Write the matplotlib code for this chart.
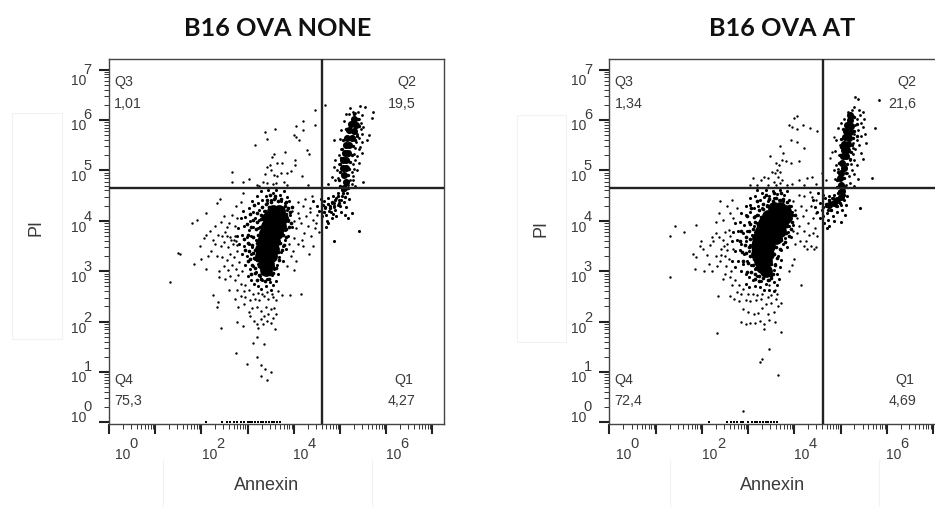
import matplotlib
matplotlib.use('Agg')
import matplotlib.pyplot as plt
from matplotlib.lines import Line2D
from matplotlib.patches import Rectangle
from matplotlib.ticker import LogLocator, NullFormatter

# all events are (log10 Annexin, log10 PI)
none_core = [(3.55,4.2),(3.68,4.2),(3.45,4.05),(3.6,4.05),(3.74,4.05),(3.42,3.9),(3.56,3.9),(3.7,3.9),
             (3.37,3.75),(3.5,3.75),(3.64,3.75),(3.33,3.6),(3.47,3.6),(3.58,3.6),(3.3,3.45),(3.44,3.45),
             (3.55,3.45),(3.3,3.3),(3.42,3.3),(3.5,3.3),(3.35,3.15),(3.45,3.15),(3.4,3.03)]
none_lobe_core = [(5.3,6.02),(5.24,5.92),(5.34,5.9),(5.2,5.8),(5.3,5.78),(5.15,5.65),(5.25,5.65),(5.12,5.5),
                  (5.2,5.5),(5.1,5.35),(5.17,5.35),(5.07,5.2),(5.13,5.2),(5.07,5.05),(5.12,5.05),(5.08,4.9),
                  (5.12,4.78),(5.08,4.66)]
none_mid = [(3.42,4.41),(3.51,4.38),(3.57,4.44),(3.66,4.39),(3.73,4.43),(3.83,4.37),(3.31,4.28),(3.39,4.33),(3.47,4.27),
            (3.8,4.3),(3.88,4.26),(3.2,4.16),(3.29,4.12),(3.37,4.19),(3.83,4.14),(3.91,4.17),(3.11,4.02),(3.21,3.97),
            (3.29,4.03),(3.87,4.01),(3.94,3.96),(3.07,3.87),(3.19,3.83),(3.27,3.88),(3.83,3.84),(3.9,3.87),(3.0,3.72),
            (3.12,3.67),(3.23,3.71),(3.76,3.72),(3.84,3.67),(3.01,3.57),(3.09,3.52),(3.2,3.56),(3.7,3.57),(3.79,3.53),
            (3.03,3.41),(3.11,3.37),(3.17,3.42),(3.66,3.39),(3.74,3.42),(3.05,3.24),(3.14,3.27),(3.21,3.22),(3.6,3.26),
            (3.67,3.22),(3.09,3.12),(3.17,3.07),(3.25,3.11),(3.55,3.09),(3.62,3.06),(3.15,2.96),(3.24,2.93),(3.31,2.97),
            (3.48,2.94),(3.56,2.97),(3.2,2.82),(3.3,2.85),(3.38,2.8),(3.46,2.84),(3.13,4.31),(3.05,4.13),(2.98,3.94),
            (2.93,3.63),(2.95,3.42),(3.0,3.2),(3.08,2.95),(3.6,4.5),(3.48,4.52),(3.95,4.28)]
none_lobe_mid = [(5.3,6.12),(5.38,6.02),(5.42,5.88),(5.12,5.82),(5.36,5.68),(5.06,5.6),(5.32,5.6),(5.04,5.42),(5.27,5.48),
                 (5.25,5.3),(5.02,5.24),(5.22,5.16),(5.0,5.12),(5.2,5.02),(5.0,4.96),(5.18,4.9),(4.98,4.8),(5.17,4.66),
                 (5.0,4.7),(5.06,4.56),(4.96,4.5),(5.1,4.48),(4.9,4.42),(4.82,4.38),(4.74,4.34),(4.68,4.28),(4.88,4.3),
                 (4.78,4.26),(4.66,4.18),(4.98,4.36)]
none_upper = [(4.46,6.2),(4.68,6.3),(4.19,5.99),(4.05,5.88),(4.19,5.81),(4.46,5.9),(4.0,5.7),(4.11,5.6),
              (4.04,5.67),(3.38,5.77),(3.59,5.82),(3.41,5.63),(3.17,5.5),(4.28,5.4),(4.33,5.32),(3.57,5.32),
              (3.52,5.26),(3.8,5.37),(3.41,5.07),(3.48,5.11),(3.63,5.14),(3.74,5.14),(4.03,5.2),(4.03,5.1),
              (2.66,4.97),(3.38,4.93),(3.5,5.0),(3.58,4.9),(3.72,4.95),(3.86,4.95),(3.93,4.99),(4.17,4.89),
              (2.67,4.78),(3.34,4.78),(3.41,4.75),(3.63,4.88),(3.78,4.78),(3.02,4.83),(2.91,4.78),(3.2,4.72),
              (3.55,4.74),(3.25,4.7),(3.85,4.72),(3.62,4.76),(4.3,4.72)]
none_lobe = [(5.22,6.23),(5.43,6.28),(5.54,6.26),(5.72,6.16),(5.69,6.03),(5.63,5.7),(5.58,5.6),(5.47,6.1),
             (5.5,5.87),(5.47,5.73),(5.43,5.47),(5.47,5.34),(5.4,5.14),(5.49,4.78),(5.29,4.81),(4.86,5.6),
             (4.89,5.2),(4.86,5.07),(4.82,4.87),(4.75,4.74),(5.38,6.15),(5.32,6.13),(5.42,6.02),(5.45,5.95),
             (5.38,5.88),(5.46,5.82),(5.36,5.72),(5.42,5.64),(5.35,5.56),(5.4,5.42),(5.33,5.45),(5.36,5.28),
             (5.3,5.32),(5.33,5.2),(5.27,5.12),(5.3,5.02),(5.25,4.96),(5.28,4.88),(5.22,4.8),(5.26,4.74),
             (5.0,5.62),(5.02,5.42),(4.98,5.3),(4.97,5.12),(4.94,5.0),(4.95,4.85),(4.9,4.8),(5.02,5.8),
             (5.08,5.98),(5.14,6.12),(5.2,6.12),(5.28,6.16),(5.48,5.56),(5.36,5.0),(5.32,4.7),(5.18,4.72)]
none_arm = [(4.42,4.4),(4.5,4.3),(4.55,4.2),(4.6,4.1),(4.65,4.4),(4.68,4.25),(4.7,4.12),(4.72,4.0),(4.75,4.45),
            (4.78,4.3),(4.8,4.18),(4.82,4.06),(4.85,4.5),(4.88,4.36),(4.9,4.22),(4.92,4.1),(4.95,4.55),
            (4.98,4.42),(5.0,4.3),(5.02,4.18),(5.05,4.5),(5.08,4.38),(5.12,4.28),(5.15,4.55),(5.2,4.44),
            (4.7,3.88),(4.75,3.95),(4.82,4.35),(4.92,4.45),(5.02,4.42),(4.96,4.32),(4.86,4.28),(4.76,4.2),
            (4.64,4.32),(4.58,4.44),(5.1,4.12),(5.25,4.16),(5.4,3.8),(4.88,3.6),(5.18,4.05),(5.05,4.62),(4.84,4.14)]
none_bridge = [(3.95,4.2),(4.0,4.0),(4.05,3.85),(4.1,4.15),(4.15,3.95),(4.2,4.3),(4.22,3.75),(4.26,4.1),(4.3,3.9),
               (4.34,4.18),(4.38,3.7),(4.42,4.02),(4.46,3.85),(4.5,4.12),(4.54,3.78),(4.1,3.55),(4.0,3.65),
               (4.2,3.5),(4.32,3.35),(4.42,3.5),(3.98,3.4),(4.08,4.38),(4.24,4.44),(4.4,4.5),(4.05,3.2),(4.0,3.02),
               (4.12,4.05),(4.36,4.26),(4.18,3.62),(3.9,3.55),(3.94,3.3),(3.85,3.1),(3.92,2.52),(4.15,2.55),(4.48,3.95)]
none_halo = [(3.2,4.5),(3.3,4.6),(3.4,4.5),(3.45,4.62),(3.55,4.55),(3.62,4.62),(3.7,4.52),(3.78,4.6),(3.85,4.48),
             (3.1,4.4),(3.22,4.35),(3.32,4.42),(3.42,4.35),(3.5,4.42),(3.6,4.45),(3.72,4.4),(3.82,4.35),(3.9,4.4),
             (2.9,4.2),(3.02,4.25),(3.12,4.18),(3.25,4.22),(3.36,4.2),(3.46,4.28),(3.85,4.22),(3.92,4.12),
             (2.85,4.05),(2.95,4.08),(3.05,4.0),(3.15,4.05),(3.25,4.02),(3.32,4.1),(3.88,4.0),(3.95,3.88),
             (2.8,3.85),(2.92,3.9),(3.02,3.82),(3.12,3.88),(3.22,3.85),(3.82,3.82),(3.88,3.7),(3.8,3.62),
             (2.78,3.7),(2.88,3.72),(2.98,3.68),(3.08,3.7),(3.18,3.62),(3.76,3.5),(3.84,3.45),(3.72,3.38),
             (2.82,3.55),(2.92,3.5),(3.02,3.55),(3.1,3.48),(3.2,3.42),(3.68,3.28),(3.76,3.2),(3.64,3.12),
             (2.88,3.35),(2.98,3.3),(3.08,3.34),(3.15,3.25),(3.22,3.15),(3.58,3.05),(3.66,2.95),(3.52,2.92),
             (2.95,3.12),(3.05,3.05),(3.12,3.1),(3.18,2.98),(3.26,2.9),(3.32,2.82),(3.42,2.85),(3.48,2.78),
             (3.0,2.9),(3.08,2.82),(3.14,2.75),(3.22,2.7),(3.3,2.65),(3.4,2.7),(3.5,2.62),(3.56,2.72),(3.62,2.8)]
none_left = [(1.32,2.79),(1.5,3.37),(1.53,3.34),(1.83,3.15),(1.8,3.95),(1.9,4.01),(2.11,4.15),(2.4,4.43),(2.33,4.35),
             (1.97,3.5),(2.11,3.05),(2.0,3.25),(2.15,3.3),(2.2,3.4),(2.05,3.65),(2.25,3.62),(2.1,3.72),(2.18,3.8),
             (2.3,3.9),(2.42,3.98),(2.5,4.1),(2.55,3.88),(2.6,3.95),(2.35,3.72),(2.45,3.7),(2.52,3.78),(2.62,3.68),
             (2.72,3.9),(2.66,4.12),(2.78,4.05),(2.3,3.55),(2.42,3.5),(2.5,3.58),(2.58,3.48),(2.68,3.55),(2.72,3.7),
             (2.34,3.3),(2.45,3.28),(2.55,3.22),(2.62,3.34),(2.7,3.28),(2.76,3.4),(2.38,3.0),(2.48,3.1),(2.58,3.02),
             (2.66,3.12),(2.75,3.05),(2.82,3.18),(2.38,2.88),(2.52,2.85),(2.62,2.9),(2.72,2.82),(2.8,2.92),(2.88,3.0),
             (2.65,3.62),(2.7,3.62),(2.74,3.6),(2.76,3.52),(2.55,3.7),(2.9,4.55),(2.75,4.3),(2.85,4.38)]
none_tail = [(3.41,0.84),(3.3,0.92),(3.51,1.0),(3.38,1.07),(3.3,1.14),(3.2,1.29),(2.99,1.17),(2.74,1.38),(3.12,1.57),
             (3.36,1.55),(3.21,1.7),(3.23,1.87),(3.59,1.85),(2.78,2.0),(2.89,1.91),(2.42,1.88),(2.33,2.29),(2.35,2.39),
             (2.26,2.53),(3.02,2.2),(3.06,2.12),(3.13,2.02),(3.2,1.96),(3.28,2.05),(3.34,1.95),(3.42,2.02),(3.5,1.98),
             (3.56,2.08),(3.62,2.15),(3.36,2.12),(3.44,2.15),(3.1,2.28),(3.2,2.3),(3.3,2.22),(3.4,2.3),(3.5,2.25),
             (3.58,2.28),(2.92,2.35),(2.8,2.3),(2.72,2.45),(2.85,2.5),(2.95,2.48),(3.05,2.42),(3.15,2.45),(3.25,2.42),
             (3.35,2.5),(3.45,2.44),(3.55,2.48),(3.62,2.42),(3.75,2.52),(2.6,2.62),(2.78,2.62),(2.92,2.6),(3.02,2.62),
             (3.12,2.55),(3.22,2.56),(3.32,2.55),(3.42,2.58),(3.52,2.55),(3.65,2.6),(2.85,2.75),(2.95,2.72)]
none_floor = [2.1,2.45,2.55,2.62,2.7,2.78,2.85,2.92,3.0,3.05,3.1,3.16,3.22,3.28,3.34,3.4,3.46,3.52,3.58,3.64,3.7]

at_core = [(3.55,4.25),(3.68,4.25),(3.8,4.2),(3.42,4.1),(3.56,4.1),(3.7,4.1),(3.8,4.05),(3.35,3.95),(3.48,3.95),
           (3.62,3.95),(3.74,3.95),(3.28,3.8),(3.42,3.8),(3.55,3.8),(3.68,3.8),(3.22,3.65),(3.36,3.65),(3.5,3.65),
           (3.6,3.65),(3.2,3.5),(3.33,3.5),(3.46,3.5),(3.2,3.35),(3.33,3.35),(3.44,3.35),(3.25,3.2),(3.38,3.2),
           (3.3,3.08),(3.38,3.0)]
at_lobe_core = [(5.2,6.1),(5.2,6.0),(5.15,5.9),(5.22,5.88),(5.12,5.78),(5.2,5.76),(5.1,5.66),(5.18,5.64),(5.08,5.52),
                (5.16,5.52),(5.07,5.4),(5.14,5.4),(5.06,5.28),(5.12,5.28),(5.04,5.15),(5.08,5.05),(5.02,4.95),(4.98,4.85),
                (5.0,4.72),(5.03,4.6),(5.0,4.48),(4.92,4.42),(4.85,4.35),(4.75,4.32)]
at_mid = [(3.45,4.44),(3.53,4.4),(3.6,4.46),(3.68,4.41),(3.76,4.44),(3.85,4.38),(3.33,4.33),(3.4,4.29),(3.88,4.3),
          (3.24,4.21),(3.32,4.24),(3.9,4.18),(3.95,4.12),(3.12,4.07),(3.2,4.12),(3.28,4.08),(3.9,4.03),(3.96,3.98),
          (3.05,3.94),(3.14,3.98),(3.22,3.92),(3.85,3.9),(3.92,3.84),(3.02,3.8),(3.1,3.84),(3.18,3.78),(3.82,3.76),
          (3.88,3.7),(2.95,3.68),(3.04,3.63),(3.12,3.7),(3.72,3.62),(3.8,3.58),(2.93,3.52),(3.02,3.48),(3.1,3.42),
          (3.6,3.48),(3.68,3.44),(2.95,3.36),(3.04,3.3),(3.12,3.24),(3.56,3.34),(3.62,3.27),(3.0,3.16),(3.1,3.12),
          (3.18,3.06),(3.5,3.15),(3.58,3.12),(3.06,2.98),(3.16,2.95),(3.24,2.91),(3.46,3.0),(3.54,2.95),(3.14,2.84),
          (3.24,2.8),(3.32,2.86),(3.42,2.82),(3.5,2.86),(2.85,3.8),(2.82,3.6),(2.86,3.38),(2.9,3.2),(2.98,2.98),
          (2.98,4.1),(3.06,4.26),(3.2,4.4),(3.38,4.52),(3.55,4.55),(3.72,4.56),(4.02,4.12)]
at_lobe_mid = [(5.3,6.05),(5.36,5.92),(5.06,5.82),(5.3,5.78),(5.02,5.62),(5.28,5.64),(5.36,5.68),(5.0,5.46),(5.24,5.5),
               (4.98,5.3),(5.22,5.36),(5.2,5.22),(4.96,5.14),(5.14,5.12),(4.94,4.96),(5.12,4.94),(4.92,4.8),(5.08,4.84),
               (4.92,4.68),(5.1,4.68),(4.95,4.56),(5.08,4.52),(4.84,4.46),(4.76,4.42),(4.68,4.34),(4.62,4.28),(4.8,4.22),
               (4.92,4.3),(4.72,4.22),(4.98,4.36)]
at_upper = [(4.06,6.08),(3.99,6.03),(3.88,5.9),(3.95,5.87),(4.06,5.83),(4.19,5.9),(4.35,5.85),(4.5,5.79),(3.92,5.6),
            (4.06,5.57),(4.2,5.44),(3.69,5.48),(3.76,5.34),(3.47,5.29),(3.92,5.15),(4.11,5.19),(3.61,5.14),(3.74,5.2),
            (3.81,5.19),(3.63,5.0),(3.52,4.97),(3.69,4.97),(3.65,4.87),(3.1,4.85),(3.34,4.87),(3.44,4.85),(3.74,4.81),
            (4.1,4.81),(4.28,4.84),(4.39,4.87),(4.46,4.74),(4.6,4.94),(4.68,4.81),(4.78,5.24),(4.82,5.37),(4.86,5.67),
            (3.28,4.8),(3.42,4.72),(3.55,4.78),(3.6,4.72),(3.7,4.75),(3.85,4.72),(3.95,4.74),(4.2,4.72),(3.05,4.72),
            (3.2,4.72),(3.58,4.95),(3.66,5.1)]
at_lobe = [(5.32,6.46),(5.38,6.41),(5.83,6.4),(5.74,5.85),(5.69,4.85),(5.3,6.25),(5.4,6.2),(5.48,6.15),(5.25,6.2),
           (5.42,6.1),(5.5,6.02),(5.35,6.02),(5.44,5.95),(5.32,5.9),(5.48,5.86),(5.38,5.8),(5.52,5.72),(5.3,5.72),
           (5.44,5.68),(5.36,5.6),(5.56,5.55),(5.28,5.55),(5.4,5.5),(5.32,5.42),(5.44,5.35),(5.26,5.32),(5.48,5.22),
           (5.3,5.2),(5.22,5.12),(5.36,5.1),(5.24,5.0),(5.3,4.92),(5.18,4.88),(5.38,4.82),(5.2,4.76),(5.12,4.72),
           (4.95,5.85),(4.9,5.6),(4.98,5.5),(4.88,5.38),(4.96,5.3),(4.9,5.1),(4.94,5.02),(4.85,5.0),(4.88,4.82),
           (5.02,5.95),(5.08,6.02),(5.16,6.15),(5.28,6.08),(5.25,5.8),(5.26,5.45),(5.2,5.2),(5.14,4.95),(5.3,4.7)]
at_arm = [(4.4,4.42),(4.45,4.28),(4.5,4.18),(4.55,4.35),(4.6,4.22),(4.62,4.1),(4.66,4.45),(4.68,4.3),(4.7,4.15),
          (4.72,4.02),(4.76,4.5),(4.78,4.38),(4.8,4.22),(4.84,4.1),(4.86,4.52),(4.9,4.3),(4.92,4.18),(4.96,4.6),
          (5.0,4.32),(5.04,4.22),(5.08,4.42),(5.12,4.32),(5.15,4.5),(4.85,4.0),(4.76,3.9),(4.7,3.85),(4.55,4.05),
          (4.62,4.52),(4.52,4.55),(5.02,3.98),(5.1,4.12),(5.43,4.25),(4.74,4.42),(4.82,4.46),(4.94,4.4),(4.64,3.95)]
at_bridge = [(3.98,4.4),(4.02,4.22),(4.06,4.05),(4.1,3.9),(4.14,4.3),(4.18,4.1),(4.22,3.8),(4.26,4.22),(4.3,3.95),
             (4.32,3.72),(4.36,4.3),(4.4,4.05),(4.44,3.85),(4.46,4.15),(4.5,3.7),(4.05,3.75),(4.12,3.6),(4.2,3.5),
             (4.28,3.45),(4.36,3.5),(4.42,3.45),(4.46,3.48),(4.02,3.55),(3.98,3.8),(4.0,3.25),(3.95,3.12),(3.88,3.0),
             (4.2,4.5),(4.34,4.58),(4.1,4.52),(4.26,3.6),(4.4,3.75),(4.14,2.72),(4.38,4.48),(4.48,4.42)]
at_halo = [(3.2,4.62),(3.3,4.55),(3.38,4.62),(3.46,4.5),(3.54,4.6),(3.62,4.54),(3.7,4.62),(3.78,4.52),(3.85,4.6),
           (3.05,4.45),(3.15,4.5),(3.25,4.42),(3.35,4.48),(3.44,4.4),(3.55,4.45),(3.66,4.42),(3.76,4.4),(3.88,4.42),
           (2.95,4.3),(3.05,4.32),(3.12,4.25),(3.22,4.3),(3.3,4.25),(3.4,4.32),(3.92,4.3),(3.95,4.18),(3.88,4.28),
           (2.85,4.15),(2.95,4.12),(3.05,4.18),(3.14,4.1),(3.22,4.12),(3.3,4.08),(3.92,4.05),(3.98,3.92),(3.88,3.9),
           (2.72,3.95),(2.82,3.98),(2.92,3.92),(3.02,3.98),(3.12,3.9),(3.2,3.95),(3.86,3.78),(3.92,3.68),(3.8,3.65),
           (2.68,3.78),(2.78,3.8),(2.88,3.75),(2.98,3.8),(3.08,3.72),(3.14,3.78),(3.76,3.55),(3.84,3.48),(3.72,3.42),
           (2.65,3.6),(2.75,3.62),(2.85,3.55),(2.95,3.6),(3.05,3.52),(3.1,3.58),(3.64,3.3),(3.72,3.22),(3.58,3.15),
           (2.72,3.4),(2.82,3.42),(2.92,3.35),(3.02,3.4),(3.1,3.32),(3.55,3.02),(3.62,2.95),(3.5,2.9),(3.68,3.08),
           (2.78,3.2),(2.88,3.15),(2.98,3.2),(3.06,3.12),(3.14,3.05),(3.45,2.82),(3.55,2.78),(3.38,2.75),(3.62,2.72),
           (2.85,3.0),(2.95,2.95),(3.02,2.88),(3.1,2.82),(3.2,2.9),(3.28,2.8),(3.15,2.7),(3.25,2.68),(3.35,2.62),
           (2.65,3.2),(2.72,3.08),(2.95,2.75),(3.02,2.68),(3.45,2.62),(3.55,2.6),(3.66,2.85)]
at_left = [(1.3,3.7),(1.42,3.9),(1.62,3.78),(1.88,3.92),(1.32,2.88),(1.8,3.35),(1.88,3.28),(1.95,3.5),(1.98,3.6),
           (2.02,3.45),(2.1,3.32),(2.18,3.52),(2.22,3.68),(2.25,3.6),(2.3,3.75),(2.38,3.68),(2.45,3.62),(1.85,3.05),
           (2.05,3.0),(2.15,3.15),(2.22,3.0),(2.32,3.1),(2.4,3.2),(2.42,3.32),(2.3,3.3),(2.48,3.5),(2.55,3.55),
           (2.38,4.15),(2.45,4.02),(2.4,4.4),(2.55,4.3),(2.65,4.42),(2.3,3.98),(2.6,4.15),(2.68,4.05),(2.75,4.25),
           (2.5,3.78),(2.58,3.82),(2.6,3.7),(2.5,3.3),(2.58,3.25),(2.52,3.1),(2.62,3.0),(2.5,2.95),(2.6,2.88),
           (2.45,2.85),(2.68,3.45),(2.35,2.5),(2.65,2.72),(2.72,2.82),(2.55,3.42),(2.42,3.45)]
at_tail = [(3.65,0.95),(3.26,1.2),(3.3,1.25),(3.45,1.45),(2.32,1.78),(3.34,1.85),(3.34,1.95),(3.72,1.8),(2.85,2.0),
           (2.95,1.95),(3.05,1.97),(3.15,1.98),(3.25,2.02),(3.45,2.03),(3.58,2.0),(3.12,2.15),(3.22,2.18),(3.42,2.15),
           (3.55,2.2),(3.0,2.2),(2.9,2.25),(3.3,2.28),(3.38,2.35),(3.5,2.38),(3.65,2.32),(2.7,2.45),(2.8,2.4),
           (2.6,2.5),(2.95,2.42),(3.05,2.4),(3.18,2.42),(3.28,2.45),(3.42,2.48),(3.6,2.45),(3.72,2.38),(2.75,2.58),
           (2.85,2.55),(3.0,2.55),(3.1,2.55),(3.2,2.52),(3.3,2.55),(3.5,2.52),(3.62,2.55),(2.8,2.72),(2.9,2.65),
           (3.45,2.72),(3.58,2.62),(2.9,0.22)]
at_floor = [2.15,2.55,2.62,2.7,2.76,2.84,2.9,3.0,3.08,3.14,3.2,3.26,3.32,3.38,3.44,3.5,3.56,3.62]

none_stats = ['1,01', '19,5', '75,3', '4,27']
at_stats = ['1,34', '21,6', '72,4', '4,69']
quadrants = ['Q3', 'Q2', 'Q4', 'Q1']
gate_x = 4.61
gate_y = 4.65

W, H = 935, 507
LABEL = '#3a3a3a'
plt.rcParams['font.family'] = ['Liberation Sans', 'DejaVu Sans']

fig = plt.figure(figsize=(W / 100, H / 100), dpi=100)


def put(x, y, s, **kw):
    # text at a pixel position of the picture
    fig.text(x / W, 1 - y / H, s, va='center', color=kw.pop('color', LABEL), **kw)


def panel(left, populations, floor, stats):
    ax = fig.add_axes([left / W, (H - 424) / H, 335.5 / W, 365 / H])
    ax.set_xscale('log')
    ax.set_yscale('log')
    ax.set_xlim(10 ** -0.01, 10 ** 7.25)
    ax.set_ylim(10 ** -0.03, 10 ** 7.21)

    # solid middle of the two populations, then the single events
    for points, size in populations:
        ax.scatter([10 ** p[0] for p in points], [10 ** p[1] for p in points],
                   s=size, c='black', linewidths=0, zorder=2)
    ax.scatter([10 ** v for v in floor], [1.0] * len(floor), s=3, c='black',
               marker='s', linewidths=0, clip_on=False, zorder=2)

    # quadrant gates
    ax.axvline(10 ** gate_x, color='#222222', lw=1.7, zorder=3)
    ax.axhline(10 ** gate_y, color='#222222', lw=1.7, zorder=3)

    for spine in ax.spines.values():
        spine.set_color('#444444')
        spine.set_linewidth(1.0)

    for axis in (ax.xaxis, ax.yaxis):
        axis.set_major_locator(LogLocator(base=10, numticks=12))
        axis.set_minor_locator(LogLocator(base=10, subs=range(2, 10), numticks=12))
        axis.set_major_formatter(NullFormatter())
        axis.set_minor_formatter(NullFormatter())
    ax.tick_params(which='major', length=7, width=1.5, color='#222222')
    ax.tick_params(which='minor', length=3.5, width=0.7, color='#333333')

    # tick labels: base and exponent are the same size in the original
    x_off = {0: 14, 2: 8, 4: 7, 6: 7}
    for d, dx in x_off.items():
        ax.annotate('10', xy=(10 ** d, 0), xycoords=('data', 'axes fraction'), xytext=(dx, -31),
                    textcoords='offset pixels', ha='center', va='center', fontsize=10, color=LABEL)
        ax.annotate(str(d), xy=(10 ** d, 0), xycoords=('data', 'axes fraction'), xytext=(dx + 11, -20),
                    textcoords='offset pixels', ha='center', va='center', fontsize=10.5, color=LABEL)
    y_off = {0: 4, 1: -6, 2: -7, 3: -7, 4: -7, 5: -7, 6: -6, 7: -11}
    for d, dy in y_off.items():
        ax.annotate('10', xy=(0, 10 ** d), xycoords=('axes fraction', 'data'), xytext=(-30, dy),
                    textcoords='offset pixels', ha='center', va='center', fontsize=10, color=LABEL)
        ax.annotate(str(d), xy=(0, 10 ** d), xycoords=('axes fraction', 'data'), xytext=(-21, dy + 11),
                    textcoords='offset pixels', ha='center', va='center', fontsize=10.5, color=LABEL)

    # quadrant names and percentages
    put(left + 5.5, 82, quadrants[0], fontsize=10.3, ha='left')
    put(left + 5.5, 104, stats[0], fontsize=10.3, ha='left')
    put(left + 307.5, 82, quadrants[1], fontsize=10.3, ha='right')
    put(left + 307.5, 104, stats[1], fontsize=10.3, ha='right')
    put(left + 5.5, 380, quadrants[2], fontsize=10.3, ha='left')
    put(left + 5.5, 401, stats[2], fontsize=10.3, ha='left')
    put(left + 305, 380, quadrants[3], fontsize=10.3, ha='right')
    put(left + 307.5, 401, stats[3], fontsize=10.3, ha='right')
    return ax


def faint_boxes(px, py, pw, ph, line_a, line_b):
    # pale leftovers of pasted boxes round the axis names
    fig.add_artist(Rectangle((px / W, 1 - (py + ph) / H), pw / W, ph / H, transform=fig.transFigure,
                             fill=False, ec='#f2f2f2', lw=0.8))
    for x in (line_a, line_b):
        fig.add_artist(Line2D([x / W, x / W], [0, 1 - 460 / H], transform=fig.transFigure,
                              color='#f2f2f2', lw=0.8))


faint_boxes(12, 113, 50, 226, 163, 372)
faint_boxes(517, 115, 49, 227, 669.5, 879)

panel(108.5, [(none_core, 85), (none_mid, 7), (none_lobe_core, 26), (none_lobe_mid, 6), (none_upper, 3),
              (none_lobe, 4), (none_arm, 5), (none_bridge, 3), (none_halo, 5), (none_left, 3),
              (none_tail, 3)], none_floor, none_stats)
panel(609, [(at_core, 85), (at_mid, 7), (at_lobe_core, 26), (at_lobe_mid, 6), (at_upper, 3),
            (at_lobe, 4), (at_arm, 5), (at_bridge, 3), (at_halo, 5), (at_left, 3),
            (at_tail, 3)], at_floor, at_stats)

put(278, 29, 'B16 OVA NONE', fontsize=18.2, fontweight='bold', family=['Lato', 'DejaVu Sans'],
    ha='center', color='#111111')
put(782, 29, 'B16 OVA AT', fontsize=18.2, fontweight='bold', family=['Lato', 'DejaVu Sans'],
    ha='center', color='#111111')
put(36, 227, 'PI', fontsize=13, rotation=90, ha='center')
put(541, 228, 'PI', fontsize=13, rotation=90, ha='center')
put(267, 485, 'Annexin', fontsize=13, ha='center')
put(773, 485, 'Annexin', fontsize=13, ha='center')

fig.savefig('out.png', dpi=100)
plt.close()
